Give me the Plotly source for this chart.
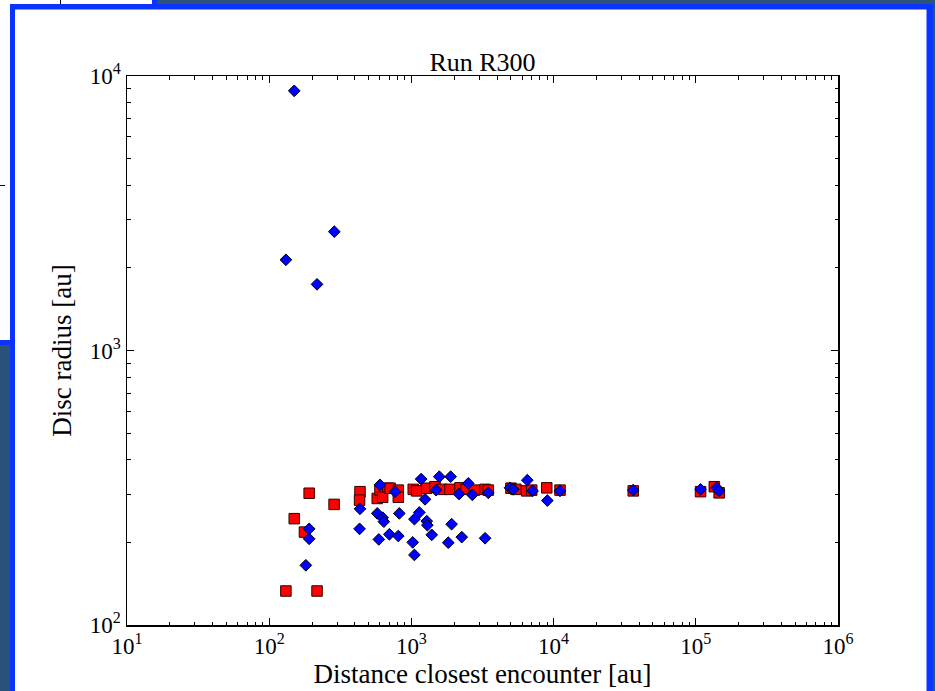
import plotly.graph_objects as go

# ---------------- data ----------------
red_x = [131, 217, 150, 177, 191, 286, 435, 432, 575, 601, 684,
         628, 708, 809, 809, 1030, 1089, 1282, 1466, 1634, 1868, 2196, 2421, 2769,
         3297, 3475, 5012, 5433, 6470, 7015, 8950, 11090, 36300, 108000, 135000, 146000]
red_y = [133, 133, 244, 218, 302, 275, 306, 285, 289, 310, 315,
         292, 315, 310, 292, 312, 308, 315, 319, 312, 312, 316, 312, 310,
         312, 310, 315, 312, 308, 310, 316, 310, 308, 306, 319, 303]

blue_x = [150, 287, 131, 217,
          181, 191, 191, 435, 432, 575, 601, 590, 628, 640, 700, 767, 822, 809,
          1170, 1247, 1137, 1050, 1282, 1295, 1390, 1022, 1050, 1571, 1489, 1888,
          1918, 1817, 2162, 2260, 2513, 2682, 3297, 3473, 4932, 5207, 6532, 7122,
          9036, 11090, 36300, 108000, 140000, 146000]
blue_y = [8830, 2710, 2140, 1742,
          165, 224, 206, 265, 224, 255, 324, 205, 246, 238, 214, 306, 255, 211,
          340, 287, 257, 243, 239, 231, 213, 200, 180, 347, 310, 347,
          233, 199.5, 300, 209, 328, 298, 207, 303, 316, 312, 337, 308,
          284, 308, 310, 312, 316, 308]

x_tick_vals = [1e1, 1e2, 1e3, 1e4, 1e5, 1e6]
x_tick_text = ["10<sup>1</sup>", "10<sup>2</sup>", "10<sup>3</sup>",
               "10<sup>4</sup>", "10<sup>5</sup>", "10<sup>6</sup>"]
y_tick_vals = [1e2, 1e3, 1e4]
y_tick_text = ["10<sup>2</sup>", "10<sup>3</sup>", "10<sup>4</sup>"]

title_text = "Run R300"
x_title = "Distance closest encounter [au]"
y_title = "Disc radius [au]"

# ---------------- layout geometry ----------------
W, H = 935, 691
ML, MR, MT, MB = 127, 97, 76, 66
PW, PH = W - ML - MR, H - MT - MB

def px(x):
    return (x - ML) / PW

def py(y):
    return (H - MB - y) / PH

minor_x = [m * 10 ** k for k in range(1, 6) for m in range(2, 10)]
minor_y = [m * 10 ** k for k in range(2, 4) for m in range(2, 10)]

FONT = "Liberation Serif"
SLATE = "#2b5279"
BLUE = "#0a33ff"

fig = go.Figure()
fig.add_trace(go.Scatter(
    x=red_x, y=red_y, mode="markers",
    marker=dict(symbol="square", size=10.5, color="#ff0000",
                line=dict(color="#300000", width=1)),
    showlegend=False, hoverinfo="skip"))
fig.add_trace(go.Scatter(
    x=blue_x, y=blue_y, mode="markers",
    marker=dict(symbol="diamond", size=9, color="#0000ff",
                line=dict(color="black", width=1)),
    showlegend=False, hoverinfo="skip"))

def rect(x0, y0, x1, y1, color):
    return dict(type="rect", xref="paper", yref="paper", layer="below",
                x0=px(x0), x1=px(x1), y0=py(y1), y1=py(y0),
                fillcolor=color, line=dict(width=0))

def seg(x0, y0, x1, y1):
    return dict(type="line", xref="paper", yref="paper", layer="below",
                x0=px(x0), x1=px(x1), y0=py(y0), y1=py(y1),
                line=dict(color="black", width=1))

shapes = [
    rect(-5, -5, 157, 345, BLUE),
    rect(-5, -5, 152, 340, "white"),
    seg(60.5, 0, 60.5, 4),
    seg(0, 185.5, 5, 185.5),
    rect(10, 4, 933, 720, BLUE),
    rect(15, 9.5, 926.5, 720, "white"),
]

axis_common = dict(
    type="log", showgrid=False, zeroline=False,
    showline=True, linecolor="black", linewidth=1.5, mirror="allticks",
    ticks="inside", ticklen=7, tickwidth=1, tickcolor="black",
    tickfont=dict(family=FONT, size=23, color="black"),
    minor=dict(ticks="inside", ticklen=3.5, tickwidth=1, tickcolor="black", showgrid=False),
)

fig.update_layout(
    width=W, height=H,
    margin=dict(l=ML, r=MR, t=MT, b=MB, autoexpand=False),
    paper_bgcolor=SLATE, plot_bgcolor="white",
    shapes=shapes,
    title=dict(text=title_text, x=px(482.5), xref="paper", xanchor="center",
               y=1 - 62 / H, yanchor="middle",
               font=dict(family=FONT, size=26, color="black")),
    xaxis=dict(axis_common, range=[1, 6], tickmode="array",
               tickvals=x_tick_vals, ticktext=x_tick_text,
               minor=dict(axis_common["minor"], tickmode="array", tickvals=minor_x),
               title=dict(text=x_title, standoff=0,
                          font=dict(family=FONT, size=27, color="black"))),
    yaxis=dict(axis_common, range=[2, 4], tickmode="array",
               tickvals=y_tick_vals, ticktext=y_tick_text,
               minor=dict(axis_common["minor"], tickmode="array", tickvals=minor_y),
               title=dict(text=y_title, standoff=10,
                          font=dict(family=FONT, size=27, color="black"))),
)

fig.write_html("out.html",
               config={"displayModeBar": False, "staticPlot": True},
               post_script="document.body.style.margin='0px';"
                           "document.body.style.overflow='hidden';")
